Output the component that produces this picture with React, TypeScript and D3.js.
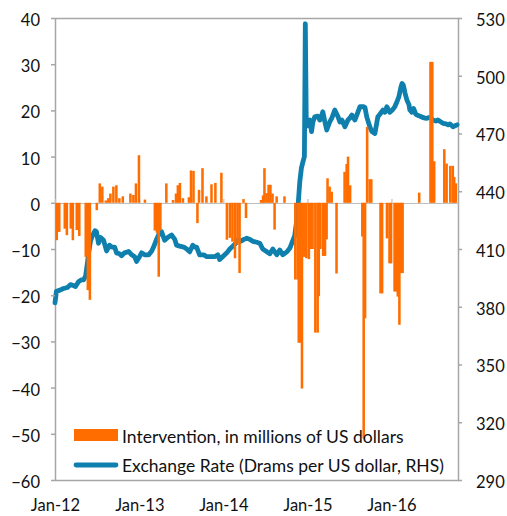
import { useEffect, useRef } from 'react';
import * as d3 from 'd3';

// weekly FX intervention, millions of US dollars (LHS)
const interventionDates = [
  '2012-01-03', '2012-01-14', '2012-02-07', '2012-02-16', '2012-03-04', '2012-03-13', '2012-03-30', '2012-04-10',
  '2012-05-08', '2012-05-17', '2012-05-26', '2012-06-25', '2012-07-08', '2012-07-19', '2012-08-03', '2012-08-14',
  '2012-08-23', '2012-09-05', '2012-09-18', '2012-10-01', '2012-10-16', '2012-11-18', '2012-12-01', '2012-12-12',
  '2012-12-25', '2013-01-20', '2013-03-04', '2013-03-13', '2013-03-21', '2013-03-28', '2013-04-23', '2013-05-22',
  '2013-06-04', '2013-06-12', '2013-06-21', '2013-07-04', '2013-07-30', '2013-08-08', '2013-08-19', '2013-09-05',
  '2013-09-12', '2013-09-27', '2013-10-14', '2013-11-05', '2013-11-22', '2013-12-18', '2014-01-11', '2014-01-24',
  '2014-02-04', '2014-02-15', '2014-02-26', '2014-03-07', '2014-03-24', '2014-04-04', '2014-06-08', '2014-06-17',
  '2014-06-23', '2014-07-02', '2014-07-11', '2014-07-19', '2014-07-28', '2014-08-06', '2014-08-15', '2014-09-18',
  '2014-11-04', '2014-11-14', '2014-11-19', '2014-11-27', '2014-12-03', '2014-12-13', '2014-12-22', '2015-01-02',
  '2015-01-12', '2015-01-18', '2015-01-30', '2015-02-09', '2015-02-14', '2015-02-21', '2015-03-05', '2015-03-13',
  '2015-03-20', '2015-03-24', '2015-04-02', '2015-04-11', '2015-05-02', '2015-06-06', '2015-06-15', '2015-06-21',
  '2015-06-30', '2015-08-22', '2015-08-28', '2015-09-03', '2015-09-12', '2015-09-23', '2015-09-30', '2015-11-09',
  '2015-11-16', '2015-12-07', '2015-12-18', '2015-12-25', '2016-01-09', '2016-01-16', '2016-01-23', '2016-01-30',
  '2016-02-07', '2016-02-13', '2016-04-25', '2016-06-13', '2016-06-21', '2016-06-29', '2016-08-12', '2016-08-22',
  '2016-09-07', '2016-09-18', '2016-09-24', '2016-10-01',
];
const interventionValues = [
  -8.1, -6.3, -5.6, -7, -5.6, -8.1, -5.9, -7.2,
  -11.7, -18.9, -21, -1.6, 4.2, 3.5, 0.5, 1,
  2, 3.5, 3.8, 1, 1.4, 2, 1.7, 4.2,
  10.3, 0.7, -6, -6.5, -16, -6, 4.2, 0.6,
  2, 3.8, 4.3, 1, 1.2, 7, 6.9, -4.4,
  2.8, 7.5, 1.4, 4, 4.3, 6.5, -8, -7.6,
  -8.4, -12, -9, -15.2, 0.8, -3.3, 0.6, 1.6,
  7.5, 2.1, 3.9, 3.9, 2, -5.8, 1.4, 1.4,
  -16.6, -16.6, -30.3, -30.3, -40.2, -11.7, -12, -12.2,
  -10, -10, -28.1, -28.1, -20.2, -10, -11.5, -11.5,
  -7.9, 5.3, 3.5, 2.4, -15.3, 6.7, 8.4, 10,
  3.8, -7.3, -51, -25, 16.4, 5.1, 5.1, -19.6,
  -19.6, -7.7, -13.1, -13.1, -19.2, -19.2, -20.3, -26.4,
  -15.2, -15.2, 2.2, 30.5, 30.5, 9, 11.6, 8.5,
  8, 8, 5.6, 4.2,
];

// exchange rate, drams per US dollar (RHS)
const rateDates = [
  '2012-01-01', '2012-01-07', '2012-01-20', '2012-02-07', '2012-02-24', '2012-03-08', '2012-03-21', '2012-03-30',
  '2012-04-12', '2012-04-25', '2012-05-04', '2012-05-13', '2012-05-21', '2012-05-26', '2012-06-03', '2012-06-12',
  '2012-06-23', '2012-06-29', '2012-07-08', '2012-07-17', '2012-07-30', '2012-08-12', '2012-08-25', '2012-09-03',
  '2012-09-16', '2012-09-24', '2012-10-07', '2012-10-16', '2012-10-29', '2012-11-16', '2012-11-29', '2012-12-12',
  '2012-12-20', '2013-01-02', '2013-01-11', '2013-01-24', '2013-02-11', '2013-02-24', '2013-03-04', '2013-03-17',
  '2013-03-30', '2013-04-08', '2013-04-21', '2013-05-04', '2013-05-21', '2013-06-04', '2013-06-12', '2013-06-25',
  '2013-07-13', '2013-07-26', '2013-08-08', '2013-08-21', '2013-08-30', '2013-09-07', '2013-09-20', '2013-10-08',
  '2013-10-21', '2013-11-07', '2013-11-24', '2013-12-08', '2013-12-16', '2013-12-29', '2014-01-16', '2014-01-29',
  '2014-02-11', '2014-02-24', '2014-03-04', '2014-03-18', '2014-03-31', '2014-04-13', '2014-04-26', '2014-05-09',
  '2014-05-26', '2014-06-08', '2014-06-21', '2014-07-04', '2014-07-22', '2014-08-04', '2014-08-21', '2014-09-03',
  '2014-09-16', '2014-10-04', '2014-10-17', '2014-10-30', '2014-11-07', '2014-11-16', '2014-11-23', '2014-11-29',
  '2014-12-06', '2014-12-12', '2014-12-19', '2014-12-23', '2014-12-27', '2015-01-03', '2015-01-12', '2015-01-19',
  '2015-01-25', '2015-02-02', '2015-02-15', '2015-02-24', '2015-03-05', '2015-03-09', '2015-03-18', '2015-03-26',
  '2015-04-08', '2015-04-17', '2015-04-30', '2015-05-13', '2015-05-22', '2015-05-31', '2015-06-13', '2015-06-26',
  '2015-07-04', '2015-07-13', '2015-07-26', '2015-08-08', '2015-08-17', '2015-08-30', '2015-09-08', '2015-09-16',
  '2015-09-29', '2015-10-08', '2015-10-21', '2015-11-03', '2015-11-12', '2015-11-25', '2015-12-04', '2015-12-12',
  '2015-12-25', '2016-01-07', '2016-01-16', '2016-01-25', '2016-02-02', '2016-02-11', '2016-02-16', '2016-02-22',
  '2016-02-29', '2016-03-08', '2016-03-17', '2016-03-21', '2016-03-30', '2016-04-06', '2016-04-16', '2016-04-21',
  '2016-05-04', '2016-05-12', '2016-05-26', '2016-06-03', '2016-06-16', '2016-06-29', '2016-07-12', '2016-07-21',
  '2016-08-03', '2016-08-12', '2016-08-25', '2016-09-03', '2016-09-11', '2016-09-24', '2016-10-03', '2016-10-12',
];
const rateValues = [
  382, 388, 388.5, 389.5, 390, 391.5, 391, 390.5,
  393, 394, 394, 396, 403, 408, 414, 417,
  419.5, 419, 413, 416, 414.5, 409, 412, 411,
  411, 408, 407.5, 406.5, 408, 408.7, 407, 406,
  403.5, 406, 408, 407, 407, 409, 411, 415,
  418.5, 419, 414.5, 416, 417.3, 415, 412, 411.5,
  411, 410, 408.5, 412, 411, 411, 407, 407,
  406, 406, 406, 407, 404.5, 406, 408, 410,
  411.5, 413, 414.7, 414, 415, 415.6, 415, 414,
  413.5, 413, 410, 409, 407.5, 410, 407, 409.5,
  407, 408.5, 410.5, 414.5, 417, 425, 435, 445,
  452, 455, 458, 527, 478, 474, 477, 471,
  476, 478.7, 479, 477, 479.6, 481.3, 476, 471.8,
  476, 478, 482.2, 479, 476, 477, 473.5, 477,
  478, 479.6, 477, 481, 483.9, 484, 483.5, 478.5,
  473.5, 471, 470, 478.7, 480, 482.2, 481, 483.9,
  481, 482.5, 484, 486.5, 489, 494, 496, 495,
  491, 487.4, 485, 482.2, 481, 483, 480, 479.6,
  479, 478.5, 478, 477.9, 478.5, 477, 476.5, 477,
  476, 475.3, 475, 474.5, 475, 473.5, 474, 474.5,
];

const leftTicks = [40, 30, 20, 10, 0, -10, -20, -30, -40, -50, -60];
const rightTicks = [530, 500, 470, 440, 410, 380, 350, 320, 290];
const xTickDates = ['2012-01-01', '2013-01-01', '2014-01-01', '2015-01-01', '2016-01-01'];
const xTickLabels = ['Jan-12', 'Jan-13', 'Jan-14', 'Jan-15', 'Jan-16'];
const legendLabels = ['Intervention, in millions of US dollars', 'Exchange Rate (Drams per US dollar, RHS)'];

const ORANGE = '#ff6d00';
const BLUE = '#0f80ad';
const AXIS = '#a6a6a6';
const TEXT = '#111';
const FONT = 'Lato, sans-serif';

export default function App() {
  const ref = useRef<SVGSVGElement>(null);

  useEffect(() => {
    const width = 507;
    const height = 516;
    const left = 55;
    const right = 458;
    const top = 18;
    const bottom = 480;
    const parse = d3.timeParse('%Y-%m-%d');

    const svg = d3.select(ref.current);
    svg.selectAll('*').remove();
    svg.attr('viewBox', `0 0 ${width} ${height}`);

    const x = d3.scaleTime().domain([parse('2012-01-01')!, parse('2016-10-16')!]).range([left, right]);
    const y = d3.scaleLinear().domain([-60, 40]).range([bottom, top]);
    const y2 = d3.scaleLinear().domain([290, 530]).range([bottom, top]);

    const bars = interventionDates.map((d, i) => ({ date: parse(d)!, value: interventionValues[i] }));
    const rate = rateDates.map((d, i) => ({ date: parse(d)!, value: rateValues[i] }));

    // frame
    svg
      .append('rect')
      .attr('x', left + 0.5)
      .attr('y', top + 0.5)
      .attr('width', right - left)
      .attr('height', bottom - top)
      .attr('fill', 'none')
      .attr('stroke', AXIS)
      .attr('stroke-width', 1.5);

    // zero line with small date ticks
    const zeroAxis = svg
      .append('g')
      .attr('transform', `translate(0, ${Math.round(y(0))})`)
      .call(
        d3
          .axisTop(x)
          .tickValues(xTickDates.map((d) => parse(d)!))
          .tickSize(4)
          .tickSizeOuter(0)
          .tickFormat(() => '')
      );
    zeroAxis.selectAll('path, line').attr('stroke', '#bfbfbf').attr('stroke-width', 1.2);

    // exchange rate line
    const line = d3
      .line<{ date: Date; value: number }>()
      .x((d) => x(d.date))
      .y((d) => y2(d.value));

    svg
      .append('path')
      .datum(rate)
      .attr('d', line)
      .attr('fill', 'none')
      .attr('stroke', BLUE)
      .attr('stroke-width', 4.8)
      .attr('stroke-linejoin', 'round')
      .attr('stroke-linecap', 'round');

    // intervention bars
    svg
      .selectAll('.bar')
      .data(bars)
      .enter()
      .append('rect')
      .attr('x', (d) => x(d.date))
      .attr('y', (d) => y(Math.max(0, d.value)))
      .attr('width', (d) => x(d3.timeDay.offset(d.date, 11)) - x(d.date))
      .attr('height', (d) => Math.abs(y(d.value) - y(0)))
      .attr('fill', ORANGE);

    // left axis
    const gl = svg
      .append('g')
      .attr('transform', `translate(${left}, 0)`)
      .call(d3.axisLeft(y).tickValues(leftTicks).tickSize(4).tickSizeOuter(0).tickPadding(11));
    gl.select('.domain').remove();
    gl.selectAll('line').attr('stroke', AXIS).attr('stroke-width', 1.5);
    gl.selectAll('text').attr('font-family', FONT).attr('font-size', 16.5).attr('fill', TEXT).attr('dy', '0.45em');

    // right axis
    const gr = svg
      .append('g')
      .attr('transform', `translate(${right}, 0)`)
      .call(d3.axisRight(y2).tickValues(rightTicks).tickSize(4).tickSizeOuter(0).tickPadding(14));
    gr.select('.domain').remove();
    gr.selectAll('line').attr('stroke', AXIS).attr('stroke-width', 1.5);
    gr.selectAll('text').attr('font-family', FONT).attr('font-size', 16.5).attr('fill', TEXT).attr('dy', '0.45em');

    // bottom date labels
    const gb = svg
      .append('g')
      .attr('transform', `translate(0, ${bottom})`)
      .call(
        d3
          .axisBottom(x)
          .tickValues(xTickDates.map((d) => parse(d)!))
          .tickSize(0)
          .tickPadding(19)
          .tickFormat((_, i) => xTickLabels[i])
      );
    gb.select('.domain').remove();
    gb.selectAll('text').attr('font-family', FONT).attr('font-size', 16.5).attr('fill', TEXT);

    // legend
    const legend = svg.append('g').attr('font-family', FONT).attr('font-size', 17.5).attr('fill', TEXT);
    legend.append('rect').attr('x', 74).attr('y', 429).attr('width', 44).attr('height', 12).attr('fill', ORANGE);
    legend.append('text').attr('x', 122).attr('y', 443).text(legendLabels[0]);
    legend
      .append('line')
      .attr('x1', 76)
      .attr('x2', 116)
      .attr('y1', 465)
      .attr('y2', 465)
      .attr('stroke', BLUE)
      .attr('stroke-width', 4.8)
      .attr('stroke-linecap', 'round');
    legend.append('text').attr('x', 122).attr('y', 471.5).text(legendLabels[1]);
  }, []);

  return <svg ref={ref} width={507} height={516} style={{ position: 'absolute', left: 0, top: 0 }}></svg>;
}
